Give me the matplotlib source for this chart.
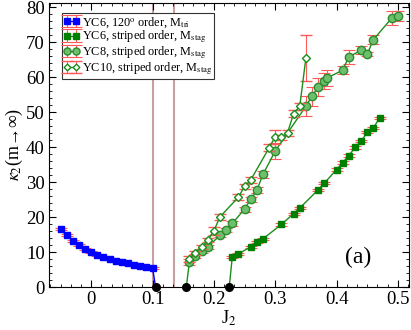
import numpy as np
import matplotlib
matplotlib.use("Agg")
import matplotlib.pyplot as plt
from matplotlib.ticker import MultipleLocator

plt.rcParams['font.family'] = ['Liberation Serif', 'DejaVu Serif']
plt.rcParams['mathtext.fontset'] = 'stix'

# YC6, 120 degree order
j_tri = [-0.05, -0.04, -0.03, -0.02, -0.01, 0.00, 0.01, 0.02, 0.03, 0.04,
         0.05, 0.06, 0.07, 0.08, 0.09, 0.10]
k_tri = [16.5, 14.8, 13.3, 12.1, 10.9, 10.1, 9.3, 8.7, 8.1, 7.6,
         7.1, 6.8, 6.4, 6.1, 5.7, 5.4]
e_tri = [0.3] * 16

# YC6, striped order
j_yc6 = [0.23, 0.24, 0.26, 0.27, 0.28, 0.31, 0.33, 0.34, 0.37, 0.38,
         0.40, 0.41, 0.42, 0.43, 0.44, 0.45, 0.46, 0.47]
k_yc6 = [8.7, 9.5, 11.5, 12.8, 13.8, 17.9, 21.0, 22.6, 27.8, 29.7,
         33.6, 35.6, 37.6, 39.9, 41.7, 44.2, 45.5, 48.3]
e_yc6 = [0.3] * 18

# YC8, striped order
j_yc8 = [0.16, 0.17, 0.18, 0.19, 0.21, 0.22, 0.23, 0.25, 0.26, 0.27,
         0.28, 0.30, 0.35, 0.36, 0.37, 0.38, 0.385, 0.41, 0.42, 0.44,
         0.45, 0.46, 0.49, 0.50]
k_yc8 = [7.1, 8.9, 10.3, 11.5, 14.8, 16.4, 18.2, 22.3, 25.1, 27.7,
         32.2, 38.9, 51.7, 54.6, 57.2, 59.0, 59.8, 62.0, 65.8, 67.7,
         66.6, 70.7, 76.9, 77.5]
e_yc8 = [0.8, 0.6, 0.6, 0.6, 0.6, 0.6, 0.6, 0.7, 0.7, 0.8,
         1.0, 2.4, 2.9, 2.7, 2.7, 2.3, 2.3, 1.1, 1.9, 1.1,
         0.5, 1.3, 2.0, 1.4]

# YC10, striped order
j_yc10 = [0.16, 0.17, 0.18, 0.19, 0.20, 0.21, 0.24, 0.25, 0.26, 0.29,
          0.30, 0.31, 0.32, 0.33, 0.34, 0.35]
k_yc10 = [8.1, 9.8, 11.5, 13.4, 16.1, 20.1, 25.7, 28.8, 30.6, 39.8,
          43.0, 42.8, 44.1, 49.6, 51.7, 65.5]
e_yc10 = [0.8, 0.6, 0.6, 0.6, 1.2, 0.8, 0.8, 0.8, 0.8, 1.0,
          2.0, 0.8, 0.8, 1.0, 1.0, 6.5]

# transition points on the axis and vertical markers
j_zero = [0.105, 0.155, 0.225]
j_vlines = [0.1, 0.135]

fig = plt.figure(figsize=(4.11, 3.30), dpi=100)
ax = fig.add_axes([0.119, 0.130, 0.876, 0.862])

for xv in j_vlines:
    ax.axvline(xv, color='#c9a0a0', linewidth=1.5, zorder=1)

ecol = '#ff5a5a'
green = '#1a8f1a'

# connecting lines down to the axis points
ax.plot([j_tri[-1], j_zero[0]], [k_tri[-1], 0], color='blue', linewidth=1, zorder=2)
ax.plot([j_zero[1], j_yc8[0]], [0, k_yc8[0]], color=green, linewidth=1, zorder=2)
ax.plot([j_zero[2], j_yc6[0]], [0, k_yc6[0]], color=green, linewidth=1, zorder=2)

ax.errorbar(j_tri, k_tri, yerr=e_tri, color='blue', marker='s', markersize=5,
            markeredgecolor='blue', linewidth=1, ecolor=ecol, elinewidth=0.8,
            capsize=4, capthick=0.8, zorder=3,
            label=r'YC6, 120$^{\rm o}$ order, M$_{\rm tri}$')
ax.errorbar(j_yc6, k_yc6, yerr=e_yc6, color=green, marker='s', markersize=5,
            markerfacecolor='#008000', markeredgecolor='#008000', linewidth=1,
            ecolor=ecol, elinewidth=0.8, capsize=4, capthick=0.8, zorder=3,
            label=r'YC6, striped order, M$_{\rm stag}$')
ax.errorbar(j_yc8, k_yc8, yerr=e_yc8, color=green, marker='o', markersize=6,
            markerfacecolor='#6cbf6c', markeredgecolor='#2e8b2e', linewidth=1,
            ecolor=ecol, elinewidth=0.8, capsize=4, capthick=0.8, zorder=3,
            label=r'YC8, striped order, M$_{\rm stag}$')
ax.errorbar(j_yc10, k_yc10, yerr=e_yc10, color=green, marker='D', markersize=4,
            markerfacecolor='white', markeredgecolor=green, markeredgewidth=1,
            linewidth=1, ecolor=ecol, elinewidth=0.8, capsize=4, capthick=0.8,
            zorder=4, label=r'YC10, striped order, M$_{\rm stag}$')

ax.plot(j_zero, [0, 0, 0], 'o', color='black', markersize=5.5,
        clip_on=False, zorder=6)

ax.set_xlim(-0.069, 0.518)
ax.set_ylim(0, 81.3)
ax.xaxis.set_major_locator(MultipleLocator(0.1))
ax.xaxis.set_minor_locator(MultipleLocator(0.1 / 6))
ax.yaxis.set_major_locator(MultipleLocator(10))
ax.yaxis.set_minor_locator(MultipleLocator(2))
ax.tick_params(which='both', direction='in', top=True, right=True, labelsize=13.5)
ax.tick_params(which='major', length=5, pad=3)
ax.tick_params(which='minor', length=2.5)
ax.set_xticks([0, 0.1, 0.2, 0.3, 0.4, 0.5])
ax.set_xticklabels(['0', '0.1', '0.2', '0.3', '0.4', '0.5'])

ax.set_xlabel(r'J$_2$', fontsize=13, labelpad=0)
ax.set_ylabel(r'$\kappa_2$(m→∞)', fontsize=13, labelpad=1)
ax.text(0.435, 8.5, '(a)', fontsize=17, ha='center', va='center')

leg = ax.legend(loc='upper left', bbox_to_anchor=(0.036, 0.963), fontsize=8.8,
                numpoints=2, handlelength=1.3, handletextpad=0.2,
                labelspacing=-0.05, borderpad=0.15, borderaxespad=0,
                markerscale=0.85,
                fancybox=False, framealpha=1, edgecolor='#333333')
leg.get_frame().set_linewidth(0.8)

fig.savefig('out.png', dpi=100)
